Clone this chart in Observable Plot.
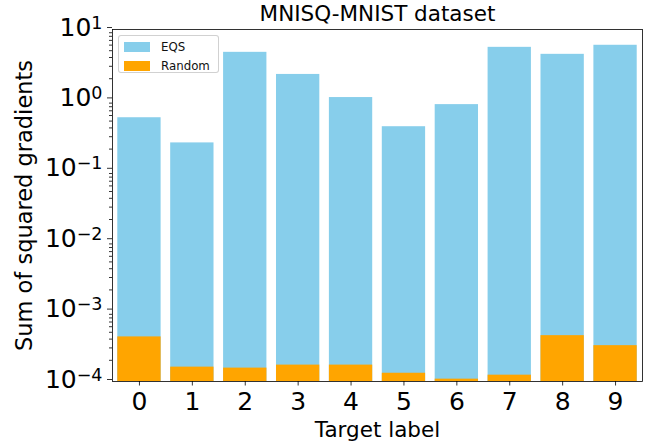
<!DOCTYPE html>
<html>
<head>
<meta charset="utf-8">
<script src="https://cdn.jsdelivr.net/npm/d3@7"></script>
<script src="https://cdn.jsdelivr.net/npm/@observablehq/plot@0.6"></script>
<style>
  html, body { margin: 0; padding: 0; background: white; }
  #chart { position: relative; width: 662px; height: 447px; font-family: "DejaVu Sans", sans-serif; }
  .legend { position: absolute; left: 118px; top: 35px; width: 99px; height: 36px;
            border: 1px solid rgba(204,204,204,0.9); border-radius: 3px; background: rgba(255,255,255,0.8);
            font-size: 11.8px; color: #111; }
  .legend .row { position: absolute; left: 5px; height: 10px; }
  .legend .sw { position: absolute; left: 0; top: 0; width: 26px; height: 10px; }
  .legend .lab { position: absolute; left: 37px; top: -3px; white-space: nowrap; line-height: 16px; }
</style>
</head>
<body>
<div id="chart"></div>
<script>
// Target labels and per-label sums of squared gradients
const labels = ["0", "1", "2", "3", "4", "5", "6", "7", "8", "9"];
const eqs = [0.558, 0.245, 4.74, 2.30, 1.08, 0.416, 0.857, 5.58, 4.44, 5.97];
const random = [4.3e-4, 1.6e-4, 1.55e-4, 1.71e-4, 1.71e-4, 1.31e-4, 1.08e-4, 1.23e-4, 4.48e-4, 3.23e-4];

// Log axis: decades carry labels, the in-between values get short ticks
const yMin = 1e-4, yMax = 10;
const yTicks = [1e-4, 1e-3, 1e-2, 1e-1, 1, 10];
const yMinorTicks = [];
for (const d of yTicks.slice(0, -1)) for (let k = 2; k <= 9; k++) yMinorTicks.push(d * k);

const series = [
  {name: "EQS", color: "#87CEEB", values: eqs},
  {name: "Random", color: "#FFA500", values: random}
];

const base = labels.map(() => yMin);

const svg = Plot.plot({
  width: 662,
  height: 447,
  marginLeft: 112,
  marginRight: 20,
  marginTop: 29,
  marginBottom: 66,
  style: {fontFamily: "DejaVu Sans, sans-serif", background: "white", color: "black"},
  x: {type: "band", domain: labels, paddingInner: 0.181, paddingOuter: 0.1, round: false, label: null},
  y: {type: "log", domain: [yMin, yMax], label: null},
  marks: [
    ...series.map(s => Plot.barY(labels, {x: labels, y1: base, y2: s.values, fill: s.color})),
    Plot.axisY(yMinorTicks, {tickSize: 3, tickFormat: () => "", strokeWidth: 0.8, label: null}),
    Plot.axisY(yTicks, {
      tickSize: 5, tickPadding: 5, fontSize: 25, dy: -2, strokeWidth: 0.8, label: null,
      tickFormat: d => String(Math.round(Math.log10(d)))
    }),
    Plot.axisX({tickSize: 4.5, tickPadding: 6, fontSize: 25, strokeWidth: 0.8, label: null}),
    Plot.text(["Target label"], {frameAnchor: "bottom", textAnchor: "middle", lineAnchor: "middle", dy: 49, fontSize: 21.5, fill: "black"}),
    Plot.text(["Sum of squared gradients"], {frameAnchor: "left", textAnchor: "middle", lineAnchor: "middle", rotate: -90, dx: -88, fontSize: 22.5, fill: "black"}),
    Plot.text(["MNISQ-MNIST dataset"], {frameAnchor: "top", textAnchor: "middle", lineAnchor: "middle", dy: -15, fontSize: 21.5, fill: "black"}),
    Plot.frame({stroke: "black", strokeWidth: 0.8})
  ]
});

// Render decade labels as 10 with a raised exponent
d3.select(svg).selectAll('g[aria-label="y-axis tick label"] text').each(function () {
  const exp = this.textContent;
  if (exp === "") return;
  const t = d3.select(this);
  t.text(null);
  t.append("tspan").text("10");
  t.append("tspan").attr("font-size", "0.7em").attr("dy", "-0.4em").text(exp.replace("-", "\u2212"));
});

const chart = document.getElementById("chart");
chart.appendChild(svg);

// Legend box inside the top-left corner of the plot
const legend = document.createElement("div");
legend.className = "legend";
series.forEach((s, i) => {
  const row = document.createElement("div");
  row.className = "row";
  row.style.top = (5.5 + i * 19) + "px";
  row.innerHTML = `<span class="sw" style="background:${s.color}"></span><span class="lab">${s.name}</span>`;
  legend.appendChild(row);
});
chart.appendChild(legend);
</script>
</body>
</html>
